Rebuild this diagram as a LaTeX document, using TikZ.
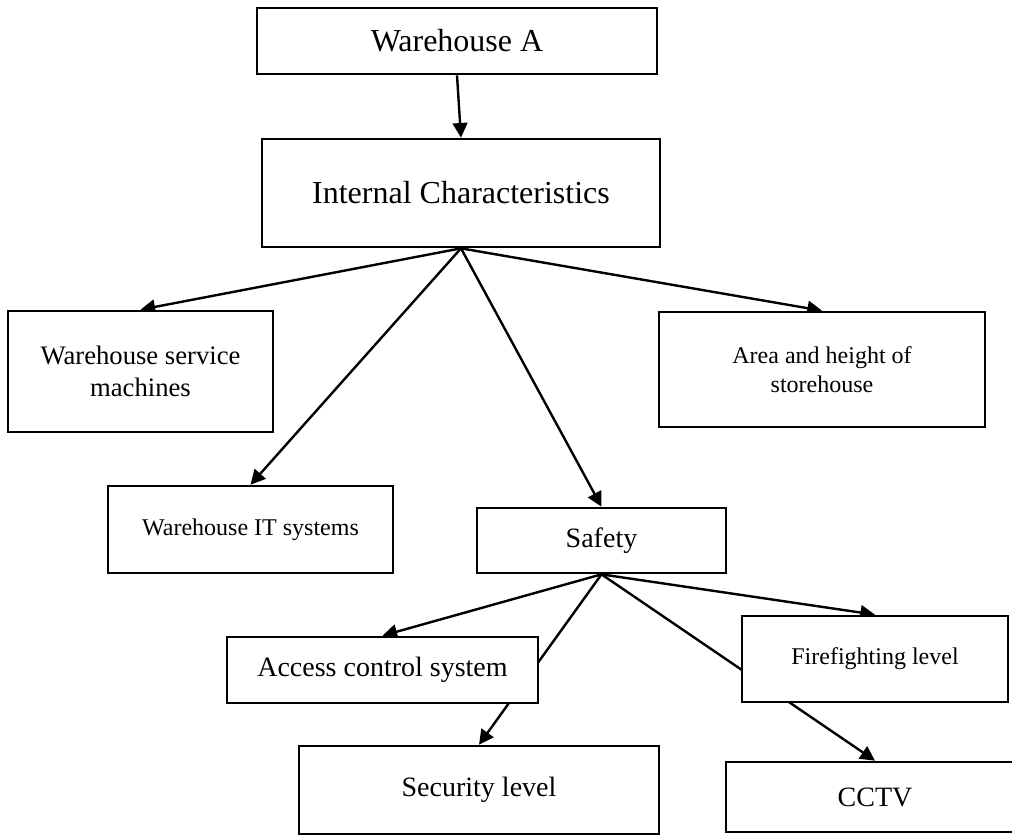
\documentclass[tikz,border=0pt]{standalone}
\usepackage{fontspec}
\setmainfont{Liberation Serif}
\usetikzlibrary{arrows.meta,backgrounds}
\begin{document}
\begin{tikzpicture}[x=0.75pt,y=-0.75pt,
  box/.style={draw,fill=white,line width=2pt,inner sep=0pt,align=center},
  big/.style={font=\fontsize{24}{28}\selectfont},
  mid/.style={font=\fontsize{21}{25}\selectfont},
  norm/.style={font=\fontsize{20}{24}\selectfont},
  small/.style={font=\fontsize{18}{22}\selectfont},
  link/.style={line width=1.8pt,-{Triangle[length=11pt,width=11pt]}}]
\useasboundingbox (0,0) rectangle (1012,835);

% boxes
\node[box,big,minimum width=300pt,minimum height=49.5pt] (wa) at (457,41) {Warehouse A};
\node[box,big,minimum width=298.5pt,minimum height=81pt] (ic) at (461,193) {Internal Characteristics};
\node[box,norm,minimum width=198.75pt,minimum height=90.75pt] (wsm) at (140.5,371.5) {Warehouse service\\machines};
\node[box,small,minimum width=244.5pt,minimum height=86.25pt] (area) at (822,369.5) {Area and height of\\storehouse};
\node[box,small,minimum width=213.75pt,minimum height=65.25pt] (it) at (250.5,529.5) {Warehouse IT systems};
\node[box,mid,minimum width=186.75pt,minimum height=48.75pt] (safety) at (601.5,540.5) {Safety};
\node[box,mid,minimum width=233.25pt,minimum height=49.5pt] (access) at (382.5,670) {Access control system};
\node[box,mid,minimum width=270pt,minimum height=66pt] (security) at (479,790) {Security level};
\node[box,small,minimum width=199.5pt,minimum height=64.5pt] (fire) at (875,659) {Firefighting level};
\node[box,mid,minimum width=223.5pt,minimum height=52.5pt] (cctv) at (875,797) {CCTV};

% connectors, drawn behind the boxes
\begin{scope}[on background layer]
\draw[link] (wa.south) -- (ic.north);
\draw[link] (ic.south) -- (wsm.north);
\draw[link] (ic.south) -- (it.north);
\draw[link] (ic.south) -- (safety.north);
\draw[link] (ic.south) -- (area.north);
\draw[link] (safety.south) -- (access.north);
\draw[link] (safety.south) -- (security.north);
\draw[link] (safety.south) -- (fire.north);
\draw[link] (safety.south) -- (cctv.north);
\end{scope}
\end{tikzpicture}
\end{document}
